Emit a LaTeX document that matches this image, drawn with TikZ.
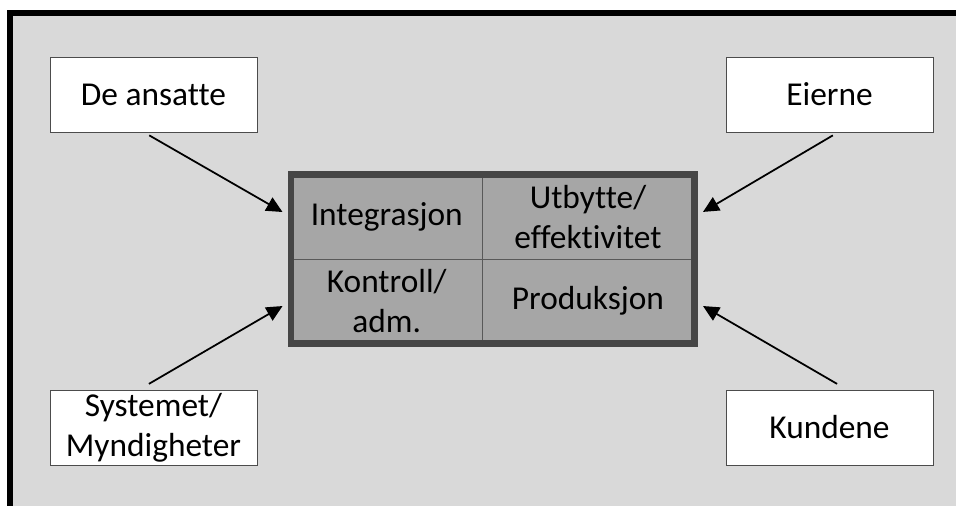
\documentclass[tikz,border=0pt]{standalone}
\usepackage{fontspec}
\setmainfont{Carlito}[Ligatures=NoCommon]
\usetikzlibrary{arrows.meta}
\usetikzlibrary{positioning}

\begin{document}
\begin{tikzpicture}
  [x=0.02cm,y=-0.02cm,font=\fontsize{19}{23}\selectfont,
  party/.style={draw=gray!60!black,fill=white,thin,align=center,minimum width=4.14cm,minimum height=1.5cm,inner sep=0pt},
  cell/.style={draw=gray!70!black,fill=gray!70,thin,align=center,minimum height=1.68cm,inner sep=0pt},
  arr/.style={-{Triangle[length=0.32cm,width=0.3cm]},line width=1pt,shorten >=0.2cm}]
  \useasboundingbox (0,0) rectangle (956,506);
  \clip (0,0) rectangle (956,506);
  % frame
  \draw [fill=gray!30,line width=0.12cm] (10,13) rectangle (990,540);

  % actors
  \node[party] (ans) at (153.5,94.5) {De ansatte};
  \node[party] (eie) at (829.5,94.5) {Eierne};
  \node[party] (sys) at (153.5,427.5) {Systemet/\\Myndigheter};
  \node[party] (kun) at (829.5,427.5) {Kundene};

  % the four tasks
  \node[cell,minimum width=3.81cm] (int) at (386.75,217) {Integrasjon};
  \node[cell,minimum width=4.24cm] (utb) at (588,217) {Utbytte/\\effektivitet};
  \node[cell,minimum width=3.81cm] (kon) at (386.75,301) {Kontroll/\\adm.};
  \node[cell,minimum width=4.24cm] (pro) at (588,301) {Produksjon};
  \draw [gray!55!black,line width=0.13cm] (int.north west) rectangle (pro.south east);

  \draw [arr,shorten <=0.12cm] ([xshift=-0.19cm]ans.south) -- (int.west);
  \draw [arr,shorten <=0.12cm] ([xshift=0.17cm]eie.south) -- (utb.east);
  \draw [arr,shorten <=0.23cm] ([xshift=-0.29cm]sys.north) -- (kon.west);
  \draw [arr,shorten <=0.23cm] ([xshift=0.35cm]kun.north) -- (pro.east);
\end{tikzpicture}
\end{document}
